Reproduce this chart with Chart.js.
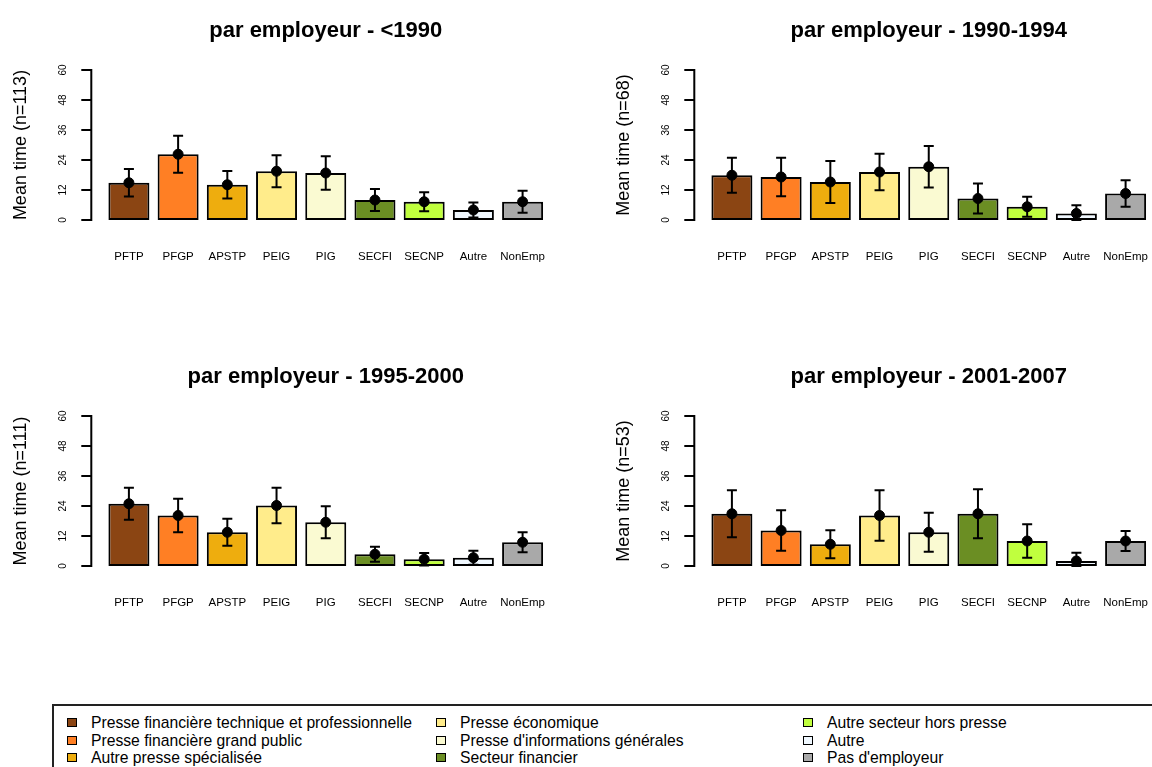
<!DOCTYPE html>
<html lang="fr">
<head>
<meta charset="utf-8">
<title>par employeur</title>
<script src="https://cdn.jsdelivr.net/npm/chart.js@4"></script>
<style>
    html, body { margin: 0; padding: 0; width: 1152px; height: 767px; overflow: hidden; background: #fff; }
    canvas { position: absolute; }
    #legende { position: absolute; left: 52px; top: 704px; width: 1160px; height: 100px; border: 2px solid #222; }
    .item { position: absolute; font: 15.7px "Liberation Sans", Arial, sans-serif; color: #000; white-space: nowrap; line-height: 17px; }
    .carre { position: absolute; width: 8px; height: 7px; border: 1px solid #000; }
</style>
</head>
<body>
<canvas id="p1" width="656" height="290" style="left:0;top:0"></canvas>
<canvas id="p2" width="656" height="290" style="left:603px;top:0"></canvas>
<canvas id="p3" width="656" height="290" style="left:0;top:346px"></canvas>
<canvas id="p4" width="656" height="290" style="left:603px;top:346px"></canvas>
<div id="legende"></div>

<script>
// Données
const categories = ['PFTP', 'PFGP', 'APSTP', 'PEIG', 'PIG', 'SECFI', 'SECNP', 'Autre', 'NonEmp'];
const libelles = [
    'Presse financière technique et professionnelle',
    'Presse financière grand public',
    'Autre presse spécialisée',
    'Presse économique',
    "Presse d'informations générales",
    'Secteur financier',
    'Autre secteur hors presse',
    'Autre',
    "Pas d'employeur"
];
const yTicks = [0, 12, 24, 36, 48, 60];
const periodes = ['<1990', '1990-1994', '1995-2000', '2001-2007'];
const effectifs = [113, 68, 111, 53];

const moy1990 = [14.9, 26.3, 14.1, 19.5, 18.8, 8.0, 7.3, 4.0, 7.3];
const err1990 = [5.5, 7.4, 5.5, 6.4, 6.7, 4.4, 3.8, 3.0, 4.4];
const moy1994 = [17.9, 17.2, 15.2, 19.2, 21.3, 8.6, 5.3, 2.6, 10.6];
const err1994 = [7.0, 7.7, 8.4, 7.3, 8.3, 6.0, 4.0, 3.3, 5.3];
const moy2000 = [24.9, 20.2, 13.5, 24.2, 17.5, 4.7, 2.7, 3.3, 9.5];
const err2000 = [6.4, 6.7, 5.4, 7.1, 6.4, 3.0, 2.5, 2.8, 4.0];
const moy2007 = [20.9, 14.2, 8.7, 20.2, 13.5, 20.9, 10.0, 2.0, 10.0];
const err2007 = [9.4, 8.1, 5.6, 10.1, 7.8, 9.8, 6.7, 3.3, 4.0];

// Couleurs des employeurs
const couleurs = ['#8B4513', '#FF7F24', '#EEAD0E', '#FFEC8B', '#FAFAD2', '#6B8E23', '#C0FF3E', '#F0F8FF', '#A9A9A9'];

Chart.defaults.font.family = '"Liberation Sans", Arial, sans-serif';
Chart.defaults.color = '#000';

// Axe Y façon R : décalé à gauche de la zone des barres
const axeY = {
    id: 'axeY',
    afterDraw(chart) {
        const y = chart.scales.y;
        const ctx = chart.ctx;
        const x0 = chart.chartArea.left - 13;
        ctx.save();
        ctx.strokeStyle = '#000';
        ctx.lineWidth = 2;
        ctx.beginPath();
        ctx.moveTo(x0, y.getPixelForValue(yTicks[0]));
        ctx.lineTo(x0, y.getPixelForValue(yTicks[yTicks.length - 1]));
        yTicks.forEach(v => {
            ctx.moveTo(x0 - 10, y.getPixelForValue(v));
            ctx.lineTo(x0 + 1, y.getPixelForValue(v));
        });
        ctx.stroke();
        ctx.restore();
    }
};

// Barres d'erreur autour des moyennes
const barresErreur = {
    id: 'barresErreur',
    afterDatasetsDraw(chart, args, opts) {
        const x = chart.scales.x, y = chart.scales.y;
        const moy = chart.data.datasets[0].data;
        const ctx = chart.ctx;
        ctx.save();
        ctx.strokeStyle = '#000';
        ctx.lineWidth = 2;
        ctx.beginPath();
        moy.forEach((m, i) => {
            const px = x.getPixelForValue(i);
            const haut = y.getPixelForValue(m + opts.erreurs[i]);
            const bas = y.getPixelForValue(Math.max(0, m - opts.erreurs[i]));
            ctx.moveTo(px, haut); ctx.lineTo(px, bas);
            ctx.moveTo(px - 5, haut); ctx.lineTo(px + 5, haut);
            ctx.moveTo(px - 5, bas); ctx.lineTo(px + 5, bas);
        });
        ctx.stroke();
        ctx.restore();
    }
};

function creerPanneau(id, periode, n, moyennes, erreurs) {
    new Chart(document.getElementById(id), {
        type: 'bar',
        data: {
            labels: categories,
            datasets: [
                { type: 'line', data: moyennes, showLine: false, pointRadius: 5, pointBackgroundColor: '#000', pointBorderColor: '#000', order: 0 },
                { data: moyennes, backgroundColor: couleurs, borderColor: '#000', borderWidth: 2, borderSkipped: false,
                  barPercentage: 1 / 1.2, categoryPercentage: 1, order: 1 }
            ]
        },
        options: {
            responsive: false,
            animation: false,
            layout: { padding: { right: 108.8 } },
            plugins: {
                legend: { display: false },
                tooltip: { enabled: false },
                title: { display: true, text: 'par employeur - ' + periode, fullSize: false, color: '#000',
                         font: { size: 22, weight: 'bold' }, padding: { top: 17.8, bottom: 25.8 } },
                barresErreur: { erreurs: erreurs }
            },
            scales: {
                x: {
                    grid: { display: false, drawTicks: false },
                    border: { display: false },
                    ticks: { font: { size: 11.5 }, color: '#000', padding: 30, autoSkip: false, maxRotation: 0 },
                    afterFit: s => { s.height = 70; }
                },
                y: {
                    min: 0, max: 60,
                    grid: { display: false, drawTicks: false },
                    border: { display: false },
                    afterBuildTicks: s => { s.ticks = yTicks.map(v => ({ value: v })); },
                    ticks: { font: { size: 10 }, color: '#000', minRotation: 90, maxRotation: 90, crossAlign: 'center', padding: 35.5 },
                    title: { display: true, text: 'Mean time (n=' + n + ')', color: '#000', font: { size: 18 }, padding: { top: 10, bottom: 0 } },
                    afterFit: s => { s.width = 104.3; }
                }
            }
        },
        plugins: [axeY, barresErreur]
    });
}

creerPanneau('p1', periodes[0], effectifs[0], moy1990, err1990);
creerPanneau('p2', periodes[1], effectifs[1], moy1994, err1994);
creerPanneau('p3', periodes[2], effectifs[2], moy2000, err2000);
creerPanneau('p4', periodes[3], effectifs[3], moy2007, err2007);

// Légende en trois colonnes
const legende = document.getElementById('legende');
const colX = [13, 382, 749];
libelles.forEach((txt, i) => {
    const col = Math.floor(i / 3), lig = i % 3;
    const item = document.createElement('div');
    item.className = 'item';
    item.style.left = colX[col] + 'px';
    item.style.top = (8 + lig * 17.5) + 'px';
    item.innerHTML = '<span class="carre" style="left:0;top:4px;background:' + couleurs[i] + '"></span>' +
                     '<span style="position:absolute;left:24px;top:0">' + txt + '</span>';
    legende.appendChild(item);
});
</script>
</body>
</html>
